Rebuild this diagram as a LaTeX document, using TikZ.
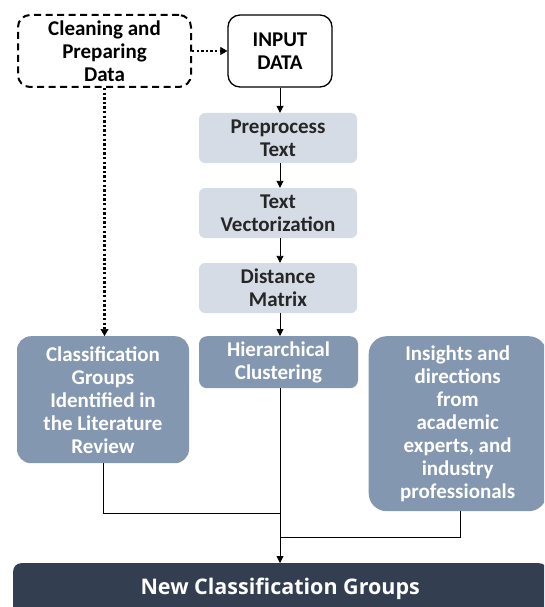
\documentclass[tikz,border=0pt]{standalone}
\usepackage{fontspec}
\setmainfont{Carlito}
\newfontfamily\bottomfont{Open Sans}
\usetikzlibrary{arrows.meta}
\definecolor{lightbox}{HTML}{D6DCE5}
\definecolor{midbox}{HTML}{8497B0}
\definecolor{darkbox}{HTML}{333F50}
\begin{document}
\begin{tikzpicture}[x=1pt,y=-1pt,
  base/.style={align=center,inner sep=0pt,font=\bfseries\fontsize{21}{23}\selectfont},
  lightstep/.style={base,fill=lightbox,rounded corners=6pt,minimum width=158pt,minimum height=50pt,text=black!85},
  midstep/.style={base,fill=midbox,rounded corners=14pt,text=white},
  conn/.style={line width=0.9pt},
  arr/.style={conn,-{Triangle[length=7pt,width=7pt]}},
  dotarr/.style={line width=2.4pt,dash pattern=on 2.4pt off 2.2pt,-{Triangle[length=7pt,width=8pt,line width=0.5pt]}}
]
\useasboundingbox (0,0) rectangle (544,607);
\clip (0,0) rectangle (544,607);
\fill[white] (0,0) rectangle (544,607);
\node[base,draw,dash pattern=on 7pt off 4.5pt,line width=2pt,rounded corners=12pt,minimum width=173pt,minimum height=72pt] (clean) at (104.5,51) {Cleaning and\\Preparing\\Data};
\node[base,draw,line width=1.3pt,rounded corners=12pt,minimum width=104pt,minimum height=72pt] (input) at (280,51) {INPUT\\DATA};
\node[lightstep] (pre) at (278,138) {Preprocess\\Text};
\node[lightstep] (vec) at (278,213) {Text\\Vectorization};
\node[lightstep] (dist) at (278,288) {Distance\\Matrix};
\node[midstep,rounded corners=8pt,minimum width=159pt,minimum height=52pt,anchor=north] (hier) at (278.5,336) {Hierarchical\\Clustering};
\node[midstep,minimum width=172pt,minimum height=127pt,anchor=north] (lit) at (103,336) {Classification\\Groups\\Identified in\\the Literature\\Review};
\node[midstep,rounded corners=18pt,minimum width=178pt,minimum height=175pt,anchor=north west] (ins) at (368.5,336) {Insights and\\directions\\from\\academic\\experts, and\\industry\\professionals};
\node[base,fill=darkbox,rounded corners=8pt,text=white,font=\bottomfont\bfseries\fontsize{21.5}{24}\selectfont,minimum width=534pt,minimum height=52pt,anchor=north west] (new) at (13,563) {New Classification Groups};
\coordinate (j1) at (280,513);
\coordinate (j2) at (280,537);
\draw[dotarr] (clean.east) -- (input.west);
\draw[dotarr] (clean.south) -- (clean.south |- lit.north);
\draw[arr] (input.south -| 280,0) -- (pre.north -| 280,0);
\draw[arr] (pre.south -| 280,0) -- (vec.north -| 280,0);
\draw[arr] (vec.south -| 280,0) -- (dist.north -| 280,0);
\draw[arr] (dist.south -| 280,0) -- (hier.north -| 280,0);
\draw[arr] (hier.south -| 280,0) -- (new.north -| 280,0);
\draw[conn] (lit.south) -- (lit.south |- j1) -- (j1);
\draw[conn] (ins.south -| 460,0) -- (460,537) -- (j2);
\end{tikzpicture}
\end{document}
